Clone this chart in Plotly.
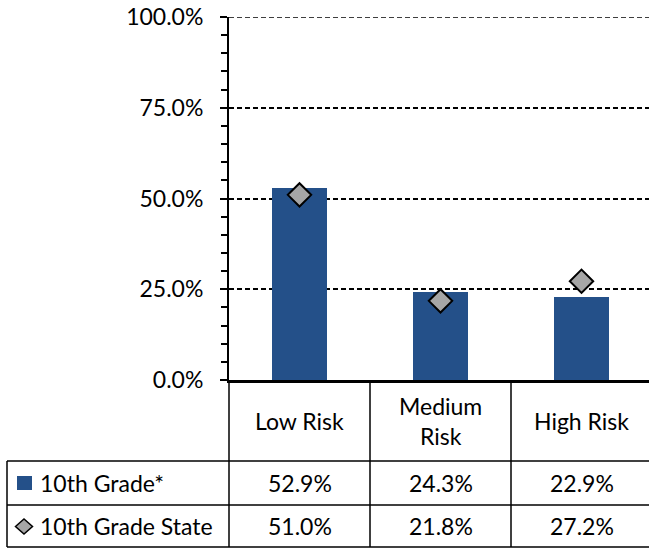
import plotly.graph_objects as go

# ---- data ----
categories = ["Low Risk", "Medium Risk", "High Risk"]
header_labels = ["Low Risk", "Medium<br>Risk", "High Risk"]
series_names = ["10th Grade*", "10th Grade State"]
grade10 = [0.529, 0.243, 0.229]
state = [0.510, 0.218, 0.272]
y_ticks = [0, 0.25, 0.5, 0.75, 1.0]

BAR = "#245089"
DIA = "#A6A6A6"
FONT = "Lato"
FS = 23

W, H = 649, 550
L, T, B = 229, 17, 170
plot_w = W - L
col_px = 141.0
x_pos = list(range(len(categories)))

fig = go.Figure()
fig.add_trace(go.Bar(x=x_pos, y=grade10, width=0.39, marker=dict(color=BAR, line=dict(width=0)),
                     name=series_names[0], showlegend=False))
fig.add_trace(go.Scatter(x=x_pos, y=state, mode="markers", name=series_names[1], showlegend=False,
                         marker=dict(symbol="diamond", size=18, color=DIA, line=dict(color="black", width=2))))

ph = H - T - B  # plot height in px


def py(p):
    return (H - B - p) / ph


def px(p):
    return (p - L) / plot_w


shapes = []
lw = 1.5
# top gridline (range maximum)
shapes.append(dict(type="line", xref="paper", yref="y", x0=0, x1=1, y0=y_ticks[-1], y1=y_ticks[-1],
                   line=dict(color="black", width=1.7, dash="5px,3px"), layer="below"))
# column separators in header and data rows
for i in range(len(categories) + 1):
    xp = L + i * col_px
    shapes.append(dict(type="line", xref="paper", yref="paper", x0=px(xp), x1=px(xp),
                       y0=py(H - B), y1=py(547), line=dict(color="black", width=lw)))
# left edge of legend rows
shapes.append(dict(type="line", xref="paper", yref="paper", x0=px(7), x1=px(7),
                   y0=py(461), y1=py(547), line=dict(color="black", width=lw)))
for yy in [461, 505, 547]:
    shapes.append(dict(type="line", xref="paper", yref="paper", x0=px(7), x1=px(W + 5),
                       y0=py(yy), y1=py(yy), line=dict(color="black", width=lw)))

annotations = []
for i, lab in enumerate(header_labels):
    annotations.append(dict(x=i, xref="x", y=py(421), yref="paper", yanchor="middle", text=lab,
                            showarrow=False, font=dict(family=FONT, size=FS, color="black"), align="center"))
row_y = [483, 526]
for r, vals in enumerate([grade10, state]):
    for i, v in enumerate(vals):
        annotations.append(dict(x=i, xref="x", y=py(row_y[r]), yref="paper", yanchor="middle",
                                text=f"{v*100:.1f}%", showarrow=False,
                                font=dict(family=FONT, size=FS, color="black")))
    annotations.append(dict(x=px(38), xref="paper", y=py(row_y[r]), yref="paper", yanchor="middle",
                            text=series_names[r], xanchor="left", showarrow=False,
                            font=dict(family=FONT, size=FS, color="black")))

# legend keys
shapes.append(dict(type="rect", xref="paper", yref="paper", x0=px(17), x1=px(32),
                   y0=py(490), y1=py(476), fillcolor=BAR, line=dict(width=0)))
shapes.append(dict(type="path", xref="paper", yref="paper",
                   path=f"M {px(15.5)} {py(526.5)} L {px(24)} {py(519)} L {px(32.5)} {py(526.5)} L {px(24)} {py(534)} Z",
                   fillcolor=DIA, line=dict(color="black", width=1.5)))

fig.update_layout(
    width=W, height=H,
    margin=dict(l=L, r=0, t=T, b=B),
    paper_bgcolor="white", plot_bgcolor="white",
    shapes=shapes, annotations=annotations,
    bargap=0,
    xaxis=dict(range=[-0.5, -0.5 + plot_w / col_px], showticklabels=False, ticks="",
               showgrid=False, zeroline=False, showline=True, linecolor="black", linewidth=2.5),
    yaxis=dict(range=[0, 1], tickvals=y_ticks, tickformat=".1%", ticks="outside", ticklen=7,
               tickwidth=1.5, tickcolor="black", showline=True, linecolor="black", linewidth=2,
               showgrid=True, gridcolor="black", griddash="5px,3px", gridwidth=1.7, zeroline=False,
               tickfont=dict(family=FONT, size=FS, color="black"), ticklabelstandoff=12,
               minor=dict(dtick=0.05, ticks="outside", ticklen=6, tickwidth=1.5, tickcolor="black",
                          showgrid=False)),
)

fig.write_html("out.html", config={"displayModeBar": False},
               post_script="document.body.style.margin='0';")
